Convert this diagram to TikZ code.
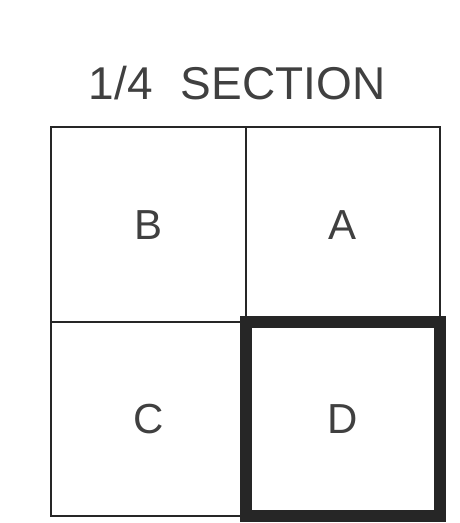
\documentclass[tikz,border=0pt]{standalone}
\usepackage{fontspec}
\setmainfont{Liberation Sans}

\tikzset{
	quad/.style={draw=black!85, line width=2pt, minimum size=194.5pt, inner sep=0pt, text=black!75, font=\fontsize{42}{42}\selectfont},
}

\begin{document}
\begin{tikzpicture}[x=1pt, y=1pt]
	\useasboundingbox (0, 0) rectangle (460, 523);
	\node [anchor=base, text=black!75, font=\fontsize{46}{46}\selectfont] (title) at (237, 423) {1/4\,\, SECTION};
	\node [quad] (B) at (148.25, 298.25) {B};
	\node [quad] (A) at (342.75, 298.25) {A};
	\node [quad] (C) at (148.25, 103.75) {C};
	\node [quad, line width=12pt] (D) at (342.75, 103.75) {D};
\end{tikzpicture}
\end{document}
